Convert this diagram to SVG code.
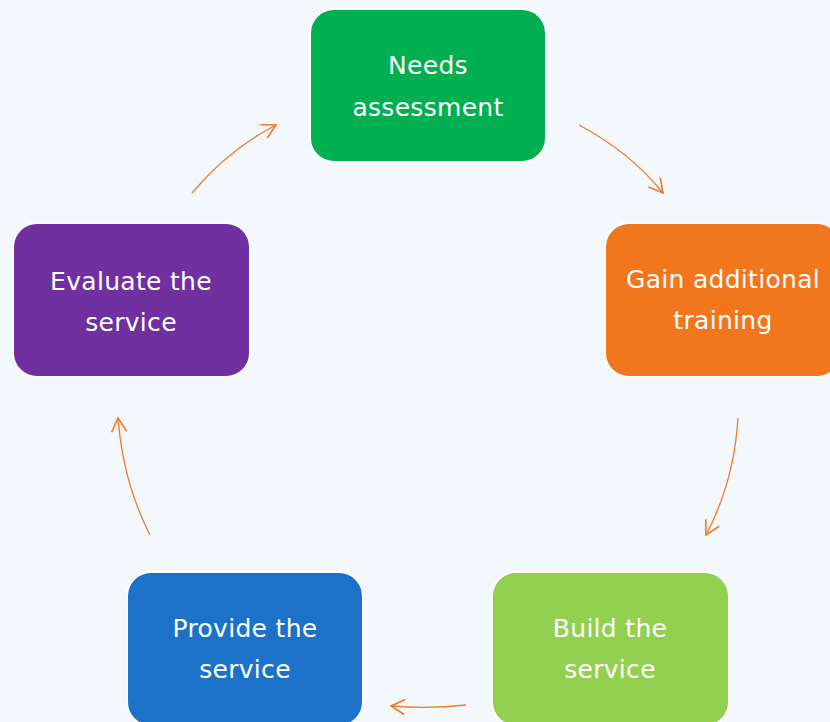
<svg xmlns="http://www.w3.org/2000/svg" width="830" height="722" viewBox="0 0 830 722">
<style>
.box{stroke:#ffffff;stroke-width:2}
.lbl{font-family:"DejaVu Sans","Noto Sans",sans-serif;font-size:25px;letter-spacing:0.3px;fill:#ffffff;text-anchor:middle}
.con{fill:none;stroke:#F07A25;stroke-width:1.3}
</style>
<defs>
<marker id="ah" markerUnits="userSpaceOnUse" markerWidth="20" markerHeight="20" refX="0" refY="0" viewBox="-12 -8 14 16" orient="auto">
<path d="M-11,-6 L0,0 L-11,6" fill="none" stroke="#F07A25" stroke-width="1.3"/>
</marker>
</defs>
<rect x="0" y="0" width="830" height="722" fill="#F3F8FC"/>
<g id="connectors">
<path class="con" d="M579,125 Q630,152 663,193" marker-end="url(#ah)"/>
<path class="con" d="M738,418 Q734,482 706,535" marker-end="url(#ah)"/>
<path class="con" d="M466,705 Q430,709 391,706" marker-end="url(#ah)"/>
<path class="con" d="M150,535 Q123,482 118,418" marker-end="url(#ah)"/>
<path class="con" d="M192,193 Q228,150 276,125" marker-end="url(#ah)"/>
</g>
<g id="needs">
<rect class="box" x="310" y="9" width="236" height="153" rx="24" fill="#00AF50"/>
<text class="lbl" x="428" y="74">Needs</text>
<text class="lbl" x="428" y="116">assessment</text>
</g>
<g id="gain">
<rect class="box" x="605" y="223" width="236" height="154" rx="24" fill="#F2761D"/>
<text class="lbl" x="723" y="288">Gain additional</text>
<text class="lbl" x="723" y="329">training</text>
</g>
<g id="build">
<rect class="box" x="492" y="572" width="237" height="154" rx="24" fill="#92D050"/>
<text class="lbl" x="610" y="637">Build the</text>
<text class="lbl" x="610" y="678">service</text>
</g>
<g id="provide">
<rect class="box" x="127" y="572" width="236" height="154" rx="24" fill="#1C72C9"/>
<text class="lbl" x="245" y="637">Provide the</text>
<text class="lbl" x="245" y="678">service</text>
</g>
<g id="evaluate">
<rect class="box" x="13" y="223" width="237" height="154" rx="24" fill="#7030A0"/>
<text class="lbl" x="131" y="290">Evaluate the</text>
<text class="lbl" x="131" y="331">service</text>
</g>
</svg>
